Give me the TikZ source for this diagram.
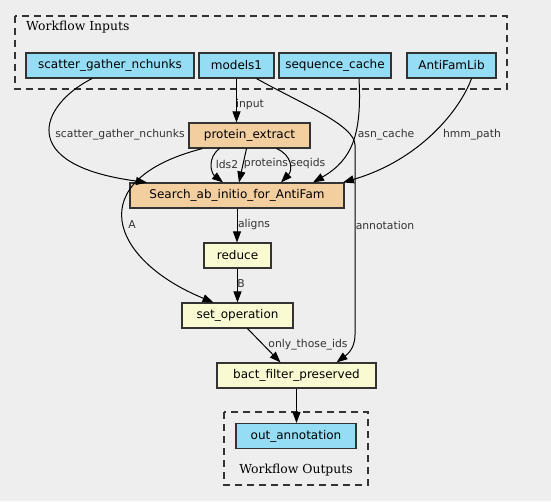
\documentclass[tikz,border=0pt]{standalone}
\usepackage{fontspec}
\setmainfont{DejaVu Sans}
\newfontfamily\clusterfont{DejaVu Serif}
\usetikzlibrary{arrows.meta,positioning}
\definecolor{bggray}{RGB}{238,238,238}
\definecolor{inblue}{RGB}{148,221,244}
\definecolor{tangold}{RGB}{243,207,160}
\definecolor{paleyellow}{RGB}{250,250,210}
\definecolor{linegray}{RGB}{51,51,51}

\begin{document}
\begin{tikzpicture}[x=1pt,y=-1pt,
  box/.style={draw=linegray,line width=1.1pt,minimum height=25pt,inner sep=0pt,font=\fontsize{12}{14}\selectfont},
  inp/.style={box,fill=inblue},
  tool/.style={box,fill=tangold},
  expr/.style={box,fill=paleyellow},
  cluster/.style={draw=linegray,line width=1.1pt,dash pattern=on 7pt off 5pt},
  lbl/.style={font=\fontsize{10.8}{12}\selectfont,text=linegray,inner sep=0pt},
  wire/.style={draw=black,line width=1pt,-{Triangle[length=11pt,width=8pt]}}]
\fill[bggray] (0,0) rectangle (551,501);
% clusters
\draw[cluster] (15,16) rectangle (507,89);
\node[anchor=west,inner sep=0pt,font=\clusterfont\fontsize{12.4}{14}\selectfont] (inlabel) at (26,27) {Workflow Inputs};
\draw[cluster] (224,412) rectangle (368,485);
\node[inner sep=0pt,font=\clusterfont\fontsize{12.4}{14}\selectfont] (outlabel) at (296,470) {Workflow Outputs};
% inputs
\node[inp,minimum width=168pt] (sgn) at (110,65.5) {scatter\_gather\_nchunks};
\node[inp,minimum width=75pt] (models) at (236.5,65.5) {models1};
\node[inp,minimum width=112pt] (seqcache) at (335,65.5) {sequence\_cache};
\node[inp,minimum width=89pt] (antifam) at (451.5,65.5) {AntiFamLib};
% steps
\node[tool,minimum width=121pt] (pextract) at (249.5,135.5) {protein\_extract};
\node[tool,minimum width=214pt] (search) at (237,195.5) {Search\_ab\_initio\_for\_AntiFam};
\node[expr,minimum width=67pt] (reduce) at (237.5,255.5) {reduce};
\node[expr,minimum width=111pt] (setop) at (237.5,315.5) {set\_operation};
\node[expr,minimum width=159pt] (bact) at (296.5,375.5) {bact\_filter\_preserved};
\node[inp,minimum width=120pt] (outann) at (296,436) {out\_annotation};
% connectors
\draw[wire] (models.south) -- (models.south |- pextract.north);
\draw[wire] ([xshift=-18pt]sgn.south) .. controls (40,105) and (15,165) .. ([xshift=-90pt]search.north);
\draw[wire] ([xshift=20pt]models.south) .. controls (300,103) and (355,125) .. (355,145) -- (355,335) .. controls (355,350) and (345,356) .. ([xshift=40pt]bact.north);
\draw[wire] ([xshift=24pt]seqcache.south) .. controls (362,135) and (352,160) .. ([xshift=76pt]search.north);
\draw[wire] ([xshift=20pt]antifam.south) .. controls (460,110) and (420,160) .. ([xshift=106pt]search.north);
\draw[wire] ([xshift=-30pt]pextract.south) .. controls (207,158) and (211,173) .. ([xshift=-14pt]search.north);
\draw[wire] ([xshift=-3pt]pextract.south) -- ([xshift=2pt]search.north);
\draw[wire] ([xshift=27pt]pextract.south) .. controls (292,155) and (293,170) .. ([xshift=44pt]search.north);
\draw[wire] ([xshift=-47pt]pextract.south) .. controls (80,180) and (110,260) .. ([xshift=-24pt]setop.north);
\draw[wire] (search.south) -- (search.south |- reduce.north);
\draw[wire] (reduce.south) -- (reduce.south |- setop.north);
\draw[wire] ([xshift=10pt]setop.south) -- ([xshift=-16pt]bact.north);
\draw[wire] (bact.south) -- (bact.south |- outann.north);
% edge labels
\node[lbl] (linput) at (250,105) {input};
\node[lbl] (lsgn) at (120,135) {scatter\_gather\_nchunks};
\node[lbl] (lasn) at (386,135) {asn\_cache};
\node[lbl] (lhmm) at (472,135) {hmm\_path};
\node[lbl] (lann) at (385,225) {annotation};
\node[lbl] (llds) at (227,164) {lds2};
\node[lbl] (lprot) at (266,164) {proteins};
\node[lbl] (lseq) at (308,164) {seqids};
\node[lbl] (la) at (132,225) {A};
\node[lbl] (laligns) at (254,225) {aligns};
\node[lbl] (lb) at (241,284) {B};
\node[lbl] (lonly) at (308,345) {only\_those\_ids};
\end{tikzpicture}
\end{document}
